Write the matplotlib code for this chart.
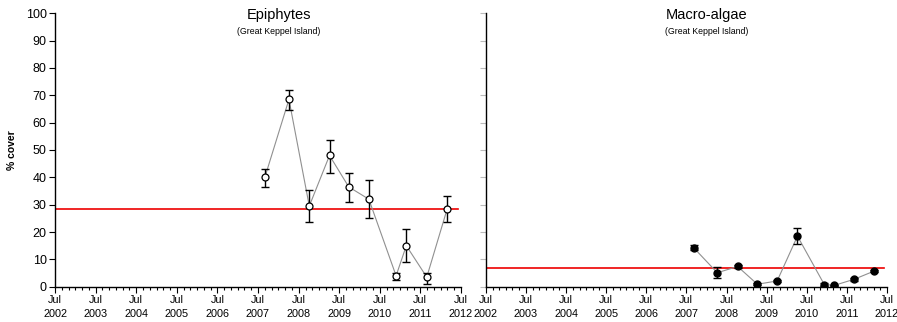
import matplotlib
matplotlib.use("Agg")
import matplotlib.pyplot as plt
import matplotlib.dates as mdates
import numpy as np
import datetime as dt

plt.rcParams['font.family'] = ['Liberation Sans', 'DejaVu Sans']

# ---- data ----
epi_dates = ["2007-09-01", "2008-04-05", "2008-10-05", "2009-04-05", "2009-09-25",
             "2010-03-25", "2010-11-25", "2011-02-25", "2011-08-28", "2012-02-28"]
epi_mean = [40.0, 68.5, 29.5, 48.0, 36.5, 32.0, 4.0, 15.0, 3.5, 28.5]
epi_err_lo = [3.5, 4.0, 6.0, 6.5, 5.5, 7.0, 1.5, 6.0, 2.5, 5.0]
epi_err_hi = [3.0, 3.5, 6.0, 5.5, 5.0, 7.0, 1.0, 6.0, 1.5, 4.5]
epi_ref = 28.3

mac_dates = ["2007-09-05", "2008-04-08", "2008-10-10", "2009-04-08", "2009-10-05",
             "2010-04-08", "2010-12-08", "2011-03-10", "2011-09-05", "2012-03-05"]
mac_mean = [14.3, 5.1, 7.4, 0.9, 2.1, 18.5, 0.8, 0.5, 2.7, 5.7]
mac_err_lo = [1.0, 1.9, 0.6, 0.4, 0.5, 2.8, 0.4, 0.3, 0.5, 0.5]
mac_err_hi = [1.0, 2.2, 0.6, 0.4, 0.5, 2.8, 0.4, 0.3, 0.5, 0.5]
mac_ref = 6.7

x_start = "2002-07-01"
x_end = "2012-07-01"
ref_end = "2012-06-01"
year_labels = list(range(2002, 2013))

fig = plt.figure(figsize=(8.97, 3.22), dpi=100)
ax1 = fig.add_axes([55/897, 35.3/322, 406/897, 273.4/322])
ax2 = fig.add_axes([485.7/897, 35.3/322, 401.3/897, 273.4/322])


def to_dt(s):
    return dt.datetime.strptime(s, "%Y-%m-%d")


def style(ax, show_ylabels):
    x0, x1 = to_dt(x_start), to_dt(x_end)
    ax.set_xlim(x0, x1)
    ax.set_ylim(0, 100)
    ax.set_yticks(np.arange(0, 101, 10))
    for s in ['top', 'right']:
        ax.spines[s].set_visible(False)
    for s in ['left', 'bottom']:
        ax.spines[s].set_linewidth(1.0)
    ax.xaxis.set_minor_locator(mdates.MonthLocator(bymonth=[1, 3, 5, 9, 11]))
    ax.set_xticks([dt.datetime(y, 7, 1) for y in year_labels])
    ax.set_xticklabels([f"Jul\n{y}" for y in year_labels], fontsize=7.8, linespacing=1.45)
    ax.tick_params(axis='x', which='major', direction='out', length=4, width=0.8, pad=2)
    ax.tick_params(axis='x', which='minor', direction='out', length=2.5, width=0.8)
    ax.tick_params(axis='y', which='major', direction='out', length=4, width=0.8, labelsize=9, pad=2)
    if not show_ylabels:
        ax.tick_params(axis='y', labelleft=False, color='#bbbbbb')


style(ax1, True)
style(ax2, False)
ax1.set_ylabel("% cover", fontsize=7.5, fontweight='bold', labelpad=6)

# Epiphytes
ed = [to_dt(d) for d in epi_dates]
ax1.plot([to_dt(x_start), to_dt(ref_end)], [epi_ref, epi_ref], color='#ee0000', lw=1.2, zorder=2)
ax1.plot(ed, epi_mean, color='#909090', lw=0.8, zorder=3)
ax1.errorbar(ed, epi_mean, yerr=[epi_err_lo, epi_err_hi], fmt='none', ecolor='black',
             elinewidth=1.0, capsize=3, capthick=1.0, zorder=4)
ax1.plot(ed, epi_mean, 'o', ms=5, mfc='white', mec='black', mew=0.9, zorder=5)

# Macro-algae
md = [to_dt(d) for d in mac_dates]
ax2.plot([to_dt(x_start), to_dt("2012-06-01")], [mac_ref, mac_ref], color='#ee0000', lw=1.2, zorder=2)
ax2.plot(md, mac_mean, color='#909090', lw=0.8, zorder=3)
ax2.errorbar(md, mac_mean, yerr=[mac_err_lo, mac_err_hi], fmt='none', ecolor='black',
             elinewidth=1.0, capsize=3, capthick=1.0, zorder=4)
ax2.plot(md, mac_mean, 'o', ms=5, mfc='black', mec='black', zorder=5)

# Titles
fig.text(279/897, 1 - 15/322, "Epiphytes", ha='center', va='center', fontsize=10.5)
fig.text(279/897, 1 - 32/322, "(Great Keppel Island)", ha='center', va='center', fontsize=6.3)
fig.text(706.7/897, 1 - 15/322, "Macro-algae", ha='center', va='center', fontsize=10.5)
fig.text(706.7/897, 1 - 32/322, "(Great Keppel Island)", ha='center', va='center', fontsize=6.3)

fig.savefig("out.png", dpi=100)
